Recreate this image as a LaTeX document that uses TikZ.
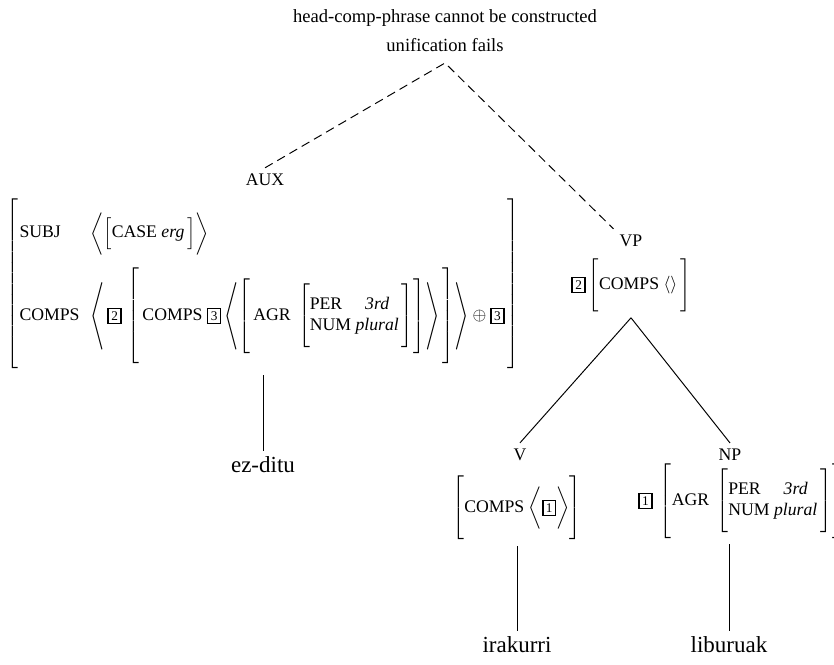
\documentclass[tikz,border=0pt]{standalone}
\usepackage{graphicx}
\usepackage{fontspec}
\setmainfont{Liberation Serif}
% boxed tags and delimiter helpers for the feature structures
\newcommand{\avmtag}[1]{\mbox{\setlength{\fboxsep}{1.3pt}\setlength{\fboxrule}{0.9pt}\fbox{\fontsize{7.5}{7.5}\selectfont #1}}}
\newcommand{\avmstrut}[1]{\vrule width 0pt height \dimexpr#1/2+2.5pt\relax depth \dimexpr#1/2-2.5pt\relax}
\newcommand{\lng}{\mathopen{\vcenter{\hbox{\scalebox{1}[1.27]{$\Biggl\langle$}}}}}
\newcommand{\rng}{\mathclose{\vcenter{\hbox{\scalebox{1}[1.27]{$\Biggr\rangle$}}}}}
\delimiterfactor=1000
\delimitershortfall=0pt
\begin{document}
\begin{tikzpicture}[x=0.565pt,y=-0.565pt,font=\fontsize{10}{12}\selectfont,
  word/.style={font=\fontsize{13}{15}\selectfont},
  tree/.style={line width=0.55pt},
  fail/.style={tree,dash pattern=on 5pt off 3pt}]
\useasboundingbox (0,0) rectangle (834,664);
% failed mother
\node[font=\fontsize{10.5}{12}\selectfont] (title) at (445,18) {head-comp-phrase cannot be constructed};
\node[font=\fontsize{10.5}{12}\selectfont] (fails) at (445,45) {unification fails};
\coordinate (apex) at (445,63);
% auxiliary
\node (aux) at (265,180) {AUX};
\node (auxavm) at (263,284) {$\left[\avmstrut{95pt}\raisebox{-2.3pt}{$\begin{array}{@{\hspace{0.5pt}}l@{\hspace{6pt}}l@{\hspace{1.5pt}}}
  \mbox{SUBJ} & \biggl\langle\left[\avmstrut{17pt}\mbox{CASE \textit{erg}}\,\right]\biggr\rangle\\[13.5pt]
  \mbox{COMPS} & \lng\,\avmtag{2}\,\left[\avmstrut{51pt}\,\mbox{COMPS}\ \avmtag{3}\,\lng\left[\avmstrut{40pt}\,\mbox{AGR}\ \left[\avmstrut{31pt}\begin{array}{@{}l@{\ }c@{\,}}
      \mbox{PER} & \mbox{\textit{3rd}}\\
      \mbox{NUM} & \mbox{\textit{plural}}
    \end{array}\right]\right]\rng\,\right]\rng\oplus\avmtag{3}
  \end{array}$}\right]$};
\node[word] (ezditu) at (263,465) {ez-ditu};
% verb phrase
\node (vp) at (631,241) {VP};
\node (vpavm) at (631,285) {$\avmtag{2}\left[\avmstrut{27pt}\mbox{COMPS }\langle\rangle\,\right]$};
\node (v) at (520,455) {V};
\node (vavm) at (517,508) {$\left[\avmstrut{34pt}\mbox{COMPS}\ \biggl\langle\avmtag{1}\biggr\rangle\right]$};
\node[word] (irakurri) at (517,645) {irakurri};
\node (np) at (730,455) {NP};
\node (npavm) at (741,501) {$\avmtag{1}\ \left[\avmstrut{42pt}\mbox{AGR}\ \left[\avmstrut{31pt}\begin{array}{@{}l@{\ }c@{\,}}
    \mbox{PER} & \mbox{\textit{3rd}}\\
    \mbox{NUM} & \mbox{\textit{plural}}
  \end{array}\right]\right]$};
\node[word] (liburuak) at (729,645) {liburuak};
% connectors
\draw[fail] (aux.north) -- (apex) -- (vp.north west);
\draw[tree] (auxavm.south -| ezditu.north) -- (ezditu.north);
\draw[tree] (vpavm.south) -- (v.north);
\draw[tree] (vpavm.south) -- (np.north);
\draw[tree] (vavm.south) -- (irakurri.north);
\draw[tree] (npavm.south -| liburuak.north) -- (liburuak.north);
\end{tikzpicture}
\end{document}
